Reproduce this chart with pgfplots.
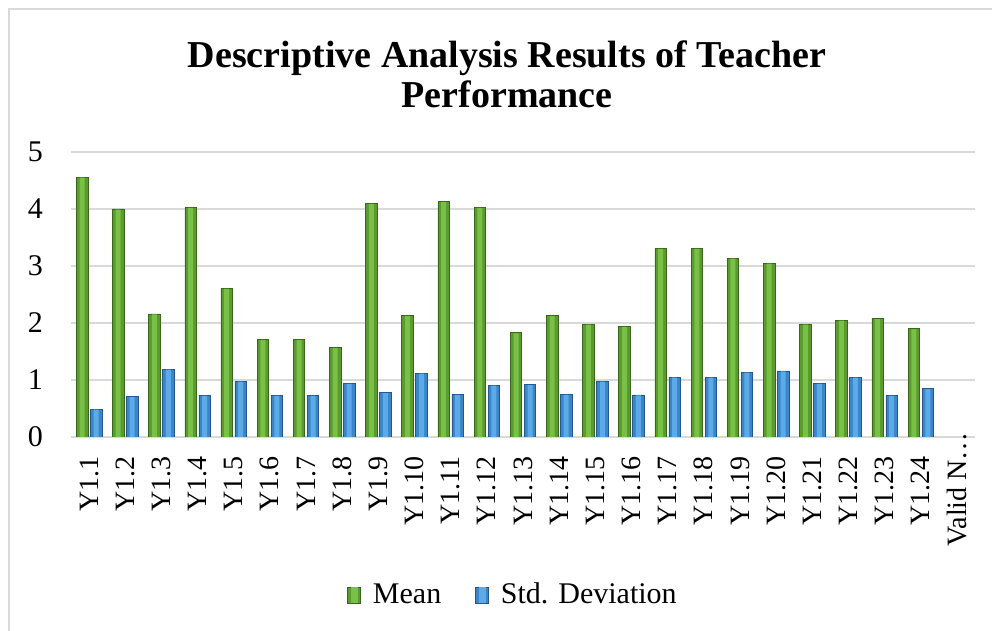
\documentclass[border=0pt]{standalone}
\usepackage{fontspec}
\setmainfont{Liberation Serif}
\usepackage{pgfplots}
\usepackage{pgfplotstable}
\pgfplotsset{compat=1.18}
\definecolor{gridgray}{HTML}{D9D9D9}
\definecolor{gfill}{HTML}{5A9A2F}
\definecolor{gmid}{HTML}{78C046}
\definecolor{gedge}{HTML}{3A681B}
\definecolor{bfill}{HTML}{3A86C6}
\definecolor{bmid}{HTML}{5CAAE8}
\definecolor{bedge}{HTML}{22588E}

\pgfplotstableread{
x mean sd
0  4.56 0.49
1  4.00 0.71
2  2.16 1.19
3  4.03 0.73
4  2.61 0.98
5  1.71 0.73
6  1.71 0.73
7  1.57 0.94
8  4.10 0.78
9  2.13 1.12
10 4.13 0.75
11 4.03 0.91
12 1.83 0.92
13 2.13 0.75
14 1.98 0.98
15 1.94 0.74
16 3.31 1.05
17 3.31 1.05
18 3.14 1.14
19 3.05 1.16
20 1.98 0.94
21 2.05 1.05
22 2.08 0.73
23 1.90 0.85
}\datatable

\begin{document}
\begin{tikzpicture}[x=1pt,y=1pt]
\path[use as bounding box] (0,0) rectangle (992,631);
\draw[gridgray, line width=1.5pt] (9,0) -- (9,622) -- (992,622);
\node[font=\fontsize{38}{40}\selectfont\bfseries, anchor=base, inner sep=0pt] at (507,563) {Descriptive Analysis Results of Teacher};
\node[font=\fontsize{38}{40}\selectfont\bfseries, anchor=base, inner sep=0pt] at (507,523) {Performance};
\begin{axis}[
  at={(71pt,194pt)}, anchor=south west, scale only axis,
  width=904pt, height=285pt,
  xmin=-0.5, xmax=24.5, ymin=0, ymax=5,
  xtick={0,...,24},
  xticklabels={Y1.1,Y1.2,Y1.3,Y1.4,Y1.5,Y1.6,Y1.7,Y1.8,Y1.9,Y1.10,Y1.11,Y1.12,Y1.13,Y1.14,Y1.15,Y1.16,Y1.17,Y1.18,Y1.19,Y1.20,Y1.21,Y1.22,Y1.23,Y1.24,{Valid N…\kern-24pt}},
  ytick={0,1,2,3,4,5},
  ymajorgrids, grid style={gridgray, line width=1.5pt},
  axis line style={draw=none},
  tick style={draw=none},
  major tick length=0pt,
  /pgf/number format/assume math mode=true,
  xticklabel style={font=\fontsize{28}{30}\selectfont, rotate=90, anchor=east, inner sep=0pt},
  xticklabel shift=19pt,
  yticklabel style={font=\fontsize{30}{32}\selectfont, anchor=east, inner sep=0pt},
  yticklabel shift=28pt,
  legend columns=2,
  legend style={at={(0.489,-0.551)}, anchor=center, draw=none, fill=none,
    font=\fontsize{30}{32}\selectfont,
    /tikz/every odd column/.append style={column sep=10pt},
    /tikz/every even column/.append style={column sep=32pt}},
]
\addplot[ybar, bar width=11.5pt, bar shift=-7pt, draw=gedge, line width=0.6pt, fill=gfill,
  legend image code/.code={\draw[draw=gedge, line width=0.6pt, fill=gfill] (0pt,-9pt) rectangle (13pt,7pt);
    \fill[gmid] (3.5pt,-8.5pt) rectangle (9.5pt,6.5pt);}]
  table[x=x, y=mean] {\datatable};
\addlegendentry{Mean}
\addplot[ybar, bar width=11.5pt, bar shift=7pt, draw=bedge, line width=0.6pt, fill=bfill,
  legend image code/.code={\draw[draw=bedge, line width=0.6pt, fill=bfill] (0pt,-9pt) rectangle (13pt,7pt);
    \fill[bmid] (3.5pt,-8.5pt) rectangle (9.5pt,6.5pt);}]
  table[x=x, y=sd] {\datatable};
\addlegendentry{Std. Deviation}
\addplot[ybar, bar width=5pt, bar shift=-7pt, draw=none, fill=gmid, forget plot]
  table[x=x, y expr=\thisrow{mean}-0.01] {\datatable};
\addplot[ybar, bar width=5pt, bar shift=7pt, draw=none, fill=bmid, forget plot]
  table[x=x, y expr=\thisrow{sd}-0.01] {\datatable};
\end{axis}
\end{tikzpicture}
\end{document}
